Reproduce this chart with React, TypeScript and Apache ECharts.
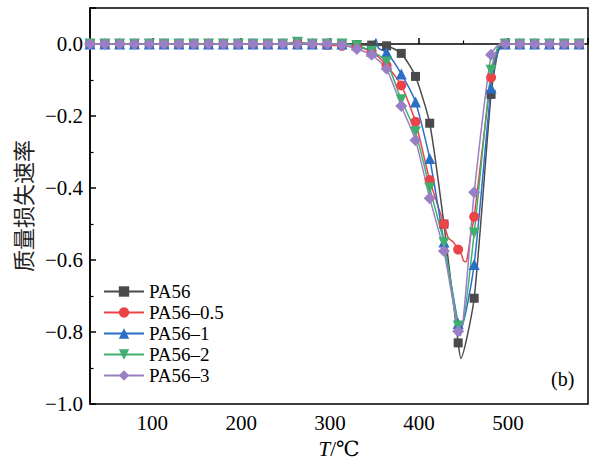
import React, { useEffect, useRef } from 'react';
import * as echarts from 'echarts';

// Marker temperatures (°C), shared by all series
const T_MARK = [30, 46.7, 63.3, 80, 96.7, 113.3, 130, 146.7, 163.3, 180, 196.7, 213.3, 230, 246.7, 263.3, 280, 296.7, 313.3, 330, 346.7, 363.5, 380, 396, 412, 428, 444, 462, 481, 497, 513.3, 530, 546.7, 563.3, 580];

const SERIES_NAMES = ['PA56', 'PA56–0.5', 'PA56–1', 'PA56–2', 'PA56–3'];
const COLORS = ['#4a4a4a', '#ec4349', '#2a6ec6', '#3fae6e', '#9a7fc4'];

// Values at the marker temperatures
const BLACK_V = [0, 0, 0, 0, 0, 0, 0, 0, 0, 0, 0, 0, 0, 0, 0.002, 0, 0, 0, -0.002, -0.003, -0.005, -0.026, -0.09, -0.22, -0.5, -0.83, -0.706, -0.14, 0, 0, 0, 0, 0, 0];
const RED_V = [0, 0, 0, 0, 0, 0, 0, 0, 0, 0, 0, 0, 0, 0, 0.004, 0, -0.003, -0.005, -0.008, -0.02, -0.06, -0.115, -0.216, -0.378, -0.5, -0.571, -0.48, -0.093, 0, 0, 0, 0, 0, 0];
const BLUE_V = [0, 0, 0, 0, 0, 0, 0, 0, 0, 0, 0, 0, 0, 0, 0, 0, 0, 0, -0.003, -0.02, -0.023, -0.083, -0.161, -0.318, -0.55, -0.776, -0.612, -0.122, 0, 0, 0, 0, 0, 0];
const GREEN_V = [0, 0, 0, 0, 0, 0, 0, 0, 0, 0, 0, 0, 0, 0, 0.005, 0, 0, 0, -0.005, -0.02, -0.05, -0.155, -0.244, -0.4, -0.552, -0.783, -0.525, -0.073, 0, 0, 0, 0, 0, 0];
const PURPLE_V = [0, 0, 0, 0, 0, 0, 0, 0, 0, 0, 0, 0, 0, 0, 0, 0, 0, -0.003, -0.014, -0.03, -0.069, -0.172, -0.267, -0.428, -0.575, -0.798, -0.412, -0.03, 0, 0, 0, 0, 0, 0];

// Intermediate line points (no marker)
const BLACK_EXTRA_T = [447, 489];
const BLACK_EXTRA_V = [-0.873, -0.02];
const RED_EXTRA_T = [433, 438.5, 448, 450, 453, 455.5, 458.2, 489];
const RED_EXTRA_V = [-0.539, -0.55, -0.586, -0.602, -0.605, -0.575, -0.53, -0.01];
const BLUE_EXTRA_T = [351.5, 354.5, 447, 489];
const BLUE_EXTRA_V = [0.014, -0.012, -0.79, -0.015];
const GREEN_EXTRA_T = [447, 489];
const GREEN_EXTRA_V = [-0.8, -0.008];
const PURPLE_EXTRA_T = [446.5, 489];
const PURPLE_EXTRA_V = [-0.81, -0.003];

const SYMBOLS = ['rect', 'circle', 'triangle', 'triangle', 'diamond'];
const SYMBOL_SIZES = [9, 10, 11, 11, 12];
const SYMBOL_ROTATE = [0, 0, 0, 180, 0];

function build(markV: number[], extraT: number[], extraV: number[]) {
  const pts: any[] = T_MARK.map((t, i) => ({ value: [t, markV[i]] }));
  extraT.forEach((t, i) => pts.push({ value: [t, extraV[i]], symbol: 'none' }));
  pts.sort((a, b) => a.value[0] - b.value[0]);
  return pts;
}

const SERIF = "'Times New Roman', 'Liberation Serif', 'DejaVu Serif', serif";

export default function App() {
  const ref = useRef<HTMLDivElement>(null);
  useEffect(() => {
    if (!ref.current) return;
    const chart = echarts.init(ref.current, undefined, { renderer: 'svg' });
    const datasets = [
      build(BLACK_V, BLACK_EXTRA_T, BLACK_EXTRA_V),
      build(RED_V, RED_EXTRA_T, RED_EXTRA_V),
      build(BLUE_V, BLUE_EXTRA_T, BLUE_EXTRA_V),
      build(GREEN_V, GREEN_EXTRA_T, GREEN_EXTRA_V),
      build(PURPLE_V, PURPLE_EXTRA_T, PURPLE_EXTRA_V),
    ];
    const fmtNum = (v: number) => v.toFixed(1).replace('-', '−');
    chart.setOption({
      animation: false,
      backgroundColor: '#fff',
      textStyle: { fontFamily: SERIF },
      grid: {
        left: 90, right: 9, top: 8, bottom: 57,
        show: true, borderColor: '#000', borderWidth: 1.5,
      },
      legend: {
        orient: 'vertical', left: 103, top: 281,
        itemWidth: 40, itemHeight: 13, itemGap: 0, padding: 0,
        textStyle: { fontFamily: SERIF, fontSize: 19, color: '#000', lineHeight: 21 },
        data: SERIES_NAMES,
      },
      graphic: [
        {
          type: 'text', left: 551, top: 369,
          style: { text: '(b)', fontFamily: SERIF, fontSize: 20, fill: '#000' },
        },
      ],
      xAxis: {
        type: 'value', min: 30, max: 590, splitNumber: 5,
        name: '{i|T}/℃', nameLocation: 'middle', nameGap: 30,
        nameTextStyle: {
          fontFamily: SERIF, fontSize: 21, color: '#000',
          rich: { i: { fontFamily: SERIF, fontSize: 21, fontStyle: 'italic', color: '#000' } },
        },
        axisLine: { lineStyle: { color: '#000', width: 1.5 } },
        axisTick: { inside: true, length: 6, lineStyle: { color: '#000', width: 1.5 } },
        minorTick: { show: true, splitNumber: 2, length: 3.5, lineStyle: { color: '#000', width: 1.2 } },
        axisLabel: {
          margin: 8, fontFamily: SERIF, fontSize: 21, color: '#000',
          formatter: (v: number) => (Math.abs(v % 100) < 1e-6 ? String(v) : ''),
        },
        splitLine: { show: false },
      },
      yAxis: {
        type: 'value', min: -1, max: 0.1, interval: 0.2,
        name: '质量损失速率', nameLocation: 'middle', nameGap: 57, nameRotate: 90,
        nameTextStyle: { fontFamily: "'Noto Sans CJK SC'", fontSize: 22, color: '#222' },
        axisLine: { lineStyle: { color: '#000', width: 1.5 } },
        axisTick: { inside: true, length: 6, lineStyle: { color: '#000', width: 1.5 } },
        minorTick: { show: true, splitNumber: 2, length: 3.5, lineStyle: { color: '#000', width: 1.2 } },
        axisLabel: {
          margin: 7, fontFamily: SERIF, fontSize: 21, color: '#000',
          formatter: (v: number) => (Math.abs(v * 5 - Math.round(v * 5)) < 1e-6 ? fmtNum(v) : ''),
        },
        splitLine: { show: false },
      },
      series: SERIES_NAMES.map((name, i) => ({
        name, type: 'line', data: datasets[i],
        symbol: SYMBOLS[i], symbolSize: SYMBOL_SIZES[i], symbolRotate: SYMBOL_ROTATE[i],
        showAllSymbol: true, smooth: 0.2,
        itemStyle: { color: COLORS[i] },
        lineStyle: { color: COLORS[i], width: 1.5 },
        emphasis: { disabled: true },
      })),
    });
    return () => chart.dispose();
  }, []);
  return <div ref={ref} style={{ position: 'fixed', left: 0, top: 0, width: 597, height: 464 }} />;
}
